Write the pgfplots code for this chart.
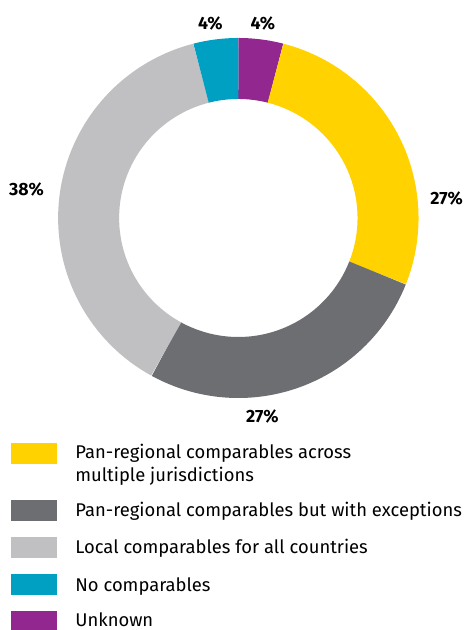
\documentclass[border=0pt]{standalone}
\usepackage{fontspec}
\setmainfont{Fira Sans}
\usepackage{pgfplots}
\pgfplotsset{compat=1.18}
\definecolor{EYyellow}{HTML}{FFD200}
\definecolor{EYdark}{HTML}{6D6E71}
\definecolor{EYlight}{HTML}{C0C0C2}
\definecolor{EYteal}{HTML}{00A0C2}
\definecolor{EYpurple}{HTML}{91278F}
\tikzset{
 pct/.style={anchor=base, font=\fontsize{13.3}{15}\selectfont\bfseries},
 leg/.style={anchor=base west, inner sep=0, font=\fontsize{13.8}{16}\selectfont}
}

\begin{document}
\begin{tikzpicture}
\begin{axis}[
 width=348pt, height=472.5pt, scale only axis, hide axis, clip=false,
 xmin=0, xmax=464, ymin=0, ymax=630
]
% shares in percent, clockwise from 12 o'clock
\xdef\startang{90}
\foreach \v/\c in {4/EYpurple,27/EYyellow,27/EYdark,38/EYlight,4/EYteal}{
 \pgfmathsetmacro\endang{\startang-3.6*\v}
 \edef\temp{\noexpand\addplot[draw=\c, line width=45.75pt, domain=\endang:\startang, samples=90]
  ({238+149.5*cos(x)},{412+149.5*sin(x)});}
 \temp
 \xdef\startang{\endang}
}

% value labels
\node[pct] at (axis cs:210,600) {4\%};
\node[pct] at (axis cs:262.5,600) {4\%};
\node[pct] at (axis cs:446,425) {27\%};
\node[pct] at (axis cs:262,207.3) {27\%};
\node[pct] at (axis cs:26.5,434.3) {38\%};

% legend
\fill[EYyellow] (axis cs:11,187) rectangle (axis cs:57,166);
\fill[EYdark] (axis cs:11,130) rectangle (axis cs:57,109);
\fill[EYlight] (axis cs:11,93) rectangle (axis cs:57,72);
\fill[EYteal] (axis cs:11,56) rectangle (axis cs:57,35);
\fill[EYpurple] (axis cs:11,19) rectangle (axis cs:57,0);
\node[leg] at (axis cs:75,171) {Pan-regional comparables across};
\node[leg] at (axis cs:75,148) {multiple jurisdictions};
\node[leg] at (axis cs:75,113) {Pan-regional comparables but with exceptions};
\node[leg] at (axis cs:75,76) {Local comparables for all countries};
\node[leg] at (axis cs:75,38.5) {No comparables};
\node[leg] at (axis cs:75,3) {Unknown};
\end{axis}
\pgfresetboundingbox
\useasboundingbox (current axis.south west) rectangle (current axis.north east);
\end{tikzpicture}
\end{document}
